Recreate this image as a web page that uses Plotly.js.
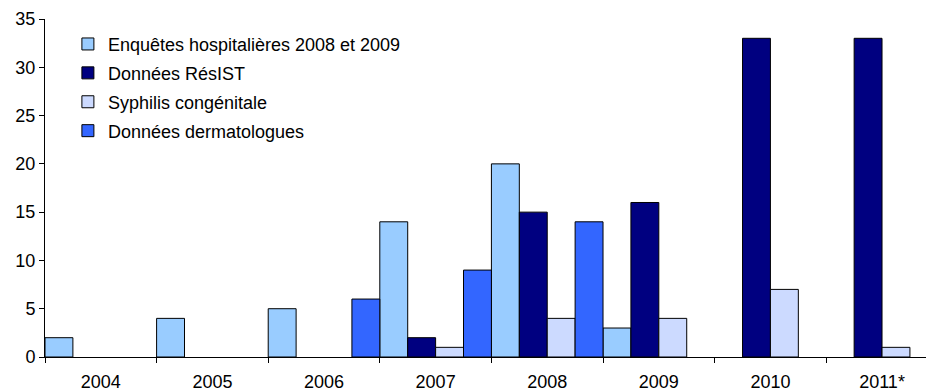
<!DOCTYPE html>
<html>
<head>
<meta charset="utf-8">
<script src="https://cdn.plot.ly/plotly-3.0.1.min.js"></script>
<style>
  html, body { margin: 0; padding: 0; background: #fff; }
  #chart { width: 926px; height: 391px; }
</style>
</head>
<body>
<div id="chart"></div>
<script>
// Years on the category axis
const years = ["2004", "2005", "2006", "2007", "2008", "2009", "2010", "2011*"];

// Case counts per source (null = no data for that year)
const enquetesHospitalieres = [2, 4, 5, 14, 20, 3, null, null];
const donneesResIST        = [null, null, null, 2, 15, 16, 33, 33];
const syphilisCongenitale  = [null, null, null, 1, 4, 4, 7, 1];
const donneesDermatologues = [null, null, 6, 9, 14, null, null, null];

const seriesNames = [
  "Enquêtes hospitalières 2008 et 2009",
  "Données RésIST",
  "Syphilis congénitale",
  "Données dermatologues"
];
const seriesValues = [enquetesHospitalieres, donneesResIST, syphilisCongenitale, donneesDermatologues];
const seriesColors = ["#99CCFF", "#000080", "#CCDAFF", "#3366FF"];

const FONT = "Liberation Sans, Arial, sans-serif";

// One legend group per series so the legend rows can be spaced out a little
const traces = seriesNames.map((name, i) => ({
  type: "bar",
  name: name,
  legendgroup: "s" + i,
  x: years,
  y: seriesValues[i],
  marker: { color: seriesColors[i], line: { color: "#000000", width: 1 } },
  hoverinfo: "x+y+name"
}));

const layout = {
  width: 926,
  height: 391,
  margin: { l: 45, r: 0, t: 19, b: 34 },
  paper_bgcolor: "#ffffff",
  plot_bgcolor: "#ffffff",
  font: { family: FONT, size: 18, color: "#000000" },
  barmode: "group",
  bargap: 0,
  bargroupgap: 0,
  showlegend: true,
  legend: {
    x: 0.026, y: 0.98, xanchor: "left", yanchor: "top",
    bgcolor: "rgba(0,0,0,0)",
    font: { family: FONT, size: 18, color: "#000000" },
    traceorder: "grouped",
    itemwidth: 30,
    tracegroupgap: 2.5
  },
  xaxis: {
    type: "category",
    range: [-0.5, 7.394],
    showline: true, linecolor: "#000000", linewidth: 1,
    ticks: "outside", ticklen: 5, tickcolor: "#000000", tickwidth: 1,
    tickson: "boundaries",
    showgrid: false, zeroline: false,
    ticklabelstandoff: 8,
    tickfont: { family: FONT, size: 18, color: "#000000" }
  },
  yaxis: {
    range: [0, 35],
    dtick: 5, tick0: 0,
    showline: true, linecolor: "#000000", linewidth: 1,
    ticks: "outside", ticklen: 5, tickcolor: "#000000", tickwidth: 1,
    showgrid: false, zeroline: false,
    tickfont: { family: FONT, size: 18, color: "#000000" }
  }
};

Plotly.newPlot("chart", traces, layout, { displayModeBar: false, staticPlot: true });
</script>
</body>
</html>
